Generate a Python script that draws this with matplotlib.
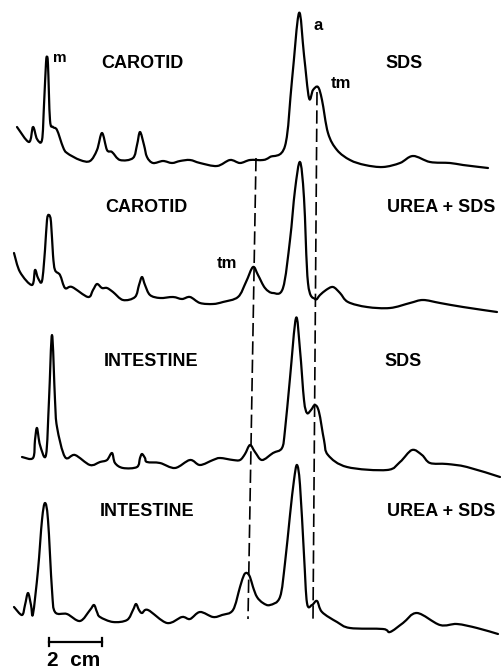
import numpy as np
import matplotlib.pyplot as plt
from matplotlib.path import Path
from matplotlib.patches import PathPatch

# densitometer scans: position along gel (px of original figure) and pen deflection
carotid_sds_x = [17, 29, 33, 37, 42, 44, 46, 47, 48, 50, 53, 57, 63, 67, 80, 90, 97, 102, 107, 112,
                 120, 133, 137, 140, 144, 147, 153, 163, 172, 180, 190, 200, 217, 230, 240, 250, 263,
                 270, 285, 292, 299, 304, 309, 313, 318, 322, 328, 337, 350, 365, 383, 400, 413,
                 430, 450, 463, 488]
carotid_sds_y = [38, 23, 38, 26, 25, 60, 102, 108, 100, 45, 38, 35, 18, 12, 5, 4, 15, 32, 15, 13,
                 5, 7, 20, 33, 20, 8, 2, 4, 2, 4, 5, 2, -1, 5, 2, 5, 5,
                 8, 19, 85, 152, 110, 67, 75, 78, 65, 32, 15, 5, 0, -2, 2, 9,
                 3, 2, 0, -3]

carotid_urea_x = [14, 20, 32, 35, 38, 42, 45, 47, 49, 51, 53, 55, 60, 65, 72, 88, 93, 97, 102, 107,
                  113, 123, 135, 139, 142, 145, 150, 160, 173, 182, 190, 200, 213, 223, 238, 246,
                  253, 258, 265, 273, 283, 290, 295, 300, 304, 308, 315, 320, 326, 333, 340, 348, 367,
                  390, 410, 423, 440, 463, 497]
carotid_urea_y = [55, 36, 23, 38, 30, 27, 58, 88, 93, 86, 53, 38, 33, 20, 21, 11, 18, 24, 20, 20,
                  16, 8, 11, 23, 31, 23, 13, 10, 11, 9, 11, 5, 4, 6, 11, 26,
                  41, 33, 20, 15, 20, 68, 118, 146, 110, 25, 9, 13, 18, 21, 15, 6, 1,
                  0, 5, 8, 5, 1, -4]

intestine_sds_x = [22, 33, 35, 37, 40, 46, 49, 52, 55, 57, 65, 75, 90, 100, 107, 112, 115, 123, 137, 140,
                   142, 145, 147, 160, 175, 190, 200, 213, 220, 233, 240, 245, 250, 255, 262, 273, 282,
                   285, 290, 296, 300, 304, 307, 311, 315, 319, 324, 328, 347, 387, 400, 412, 422, 430,
                   447, 467, 500]
intestine_sds_y = [11, 10, 28, 40, 23, 13, 68, 133, 68, 41, 11, 13, 3, 6, 8, 15, 5, 0, 1, 10,
                   14, 10, 6, 5, 0, 8, 3, 8, 10, 8, 8, 14, 23, 16, 8, 15, 20,
                   38, 90, 150, 118, 68, 55, 58, 63, 56, 28, 13, 1, -2, 6, 18, 13, 5,
                   4, 1, -9]

intestine_urea_x = [14, 22, 25, 28, 31, 33, 38, 42, 45, 48, 52, 55, 67, 80, 90, 94, 97, 100, 113, 127,
                    133, 136, 139, 142, 148, 167, 182, 190, 200, 213, 222, 233, 240, 244, 247, 250, 253,
                    257, 263, 270, 280, 285, 290, 294, 297, 300, 304, 307, 312, 317, 322, 337, 350, 383,
                    390, 403, 417, 440, 457, 477, 498]
intestine_urea_y = [18, 10, 20, 32, 20, 11, 55, 105, 122, 105, 35, 13, 11, 4, 15, 20, 13, 8, 3, 5,
                    15, 21, 15, 12, 15, 2, 8, 6, 13, 8, 10, 15, 38, 50, 52, 48, 38,
                    28, 22, 20, 28, 62, 110, 145, 160, 140, 70, 22, 20, 24, 13, 3, -3, -4,
                    -7, 2, 12, 0, 1, -3, -9]

tissues = ['CAROTID', 'CAROTID', 'INTESTINE', 'INTESTINE']
buffers = ['SDS', 'UREA + SDS', 'SDS', 'UREA + SDS']

traces = [(carotid_sds_x, carotid_sds_y), (carotid_urea_x, carotid_urea_y),
          (intestine_sds_x, intestine_sds_y), (intestine_urea_x, intestine_urea_y)]
baselines = [165, 308, 468, 625]


def smooth_path(x, y):
    # catmull-rom through the read points, drawn as bezier segments
    p = np.column_stack([x, y]).astype(float)
    p = np.vstack([p[0], p, p[-1]])
    verts = [p[1]]
    codes = [Path.MOVETO]
    for i in range(1, len(p) - 2):
        c1 = p[i] + (p[i + 1] - p[i - 1]) / 6.0
        c2 = p[i + 1] - (p[i + 2] - p[i]) / 6.0
        verts += [c1, c2, p[i + 1]]
        codes += [Path.CURVE4] * 3
    return Path(verts, codes)


fig = plt.figure(figsize=(5.02, 6.69), dpi=100)
ax = fig.add_axes([0, 0, 1, 1])
ax.set_xlim(0, 502)
ax.set_ylim(669, 0)
ax.axis('off')

font = dict(family='Liberation Sans', weight='bold', color='black')

for (x, y), base in zip(traces, baselines):
    path = smooth_path(x, base - np.array(y))
    ax.add_patch(PathPatch(path, fill=False, edgecolor='black', lw=1.6,
                           joinstyle='round', capstyle='round'))

# panel labels
label_y = [63, 207, 362, 512]
tissue_x = [142, 146, 151, 147]
buffer_x = [404, 441, 403, 441]
for i in range(4):
    ax.text(tissue_x[i], label_y[i], tissues[i], ha='center', va='center', fontsize=13, **font)
    ax.text(buffer_x[i], label_y[i], buffers[i], ha='center', va='center', fontsize=13, **font)

# peak labels
ax.text(60, 58, 'm', ha='center', va='center', fontsize=11, **font)
ax.text(318, 25, 'a', ha='center', va='center', fontsize=12, **font)
ax.text(341, 84, 'tm', ha='center', va='center', fontsize=12, **font)
ax.text(227, 263, 'tm', ha='center', va='center', fontsize=12, **font)

# dashed alignment lines through tm and actin
ax.plot([256, 248], [158, 619], color='black', lw=1.2, dashes=(8, 3))
ax.plot([317, 313], [92, 620], color='black', lw=1.2, dashes=(8, 3))

# scale bar
ax.plot([49, 102], [642, 642], color='black', lw=1.6)
ax.plot([49, 49], [638, 646], color='black', lw=1.6)
ax.plot([102, 102], [638, 646], color='black', lw=1.6)
ax.text(47, 661, '2  cm', ha='left', va='center', fontsize=15, **font)

fig.savefig('out.png', dpi=100)
